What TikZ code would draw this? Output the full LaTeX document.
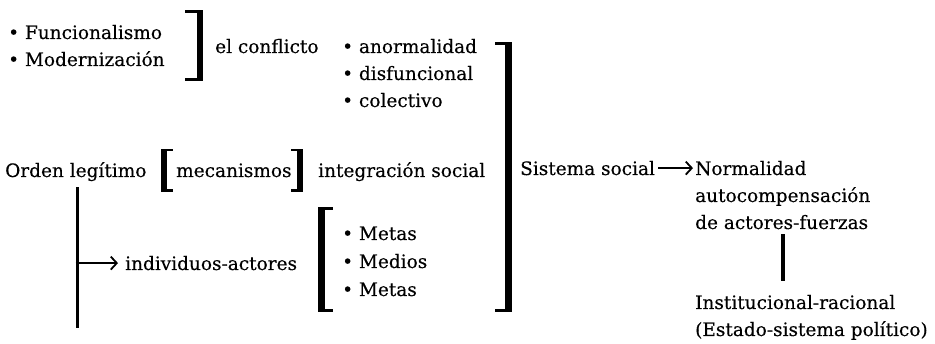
\documentclass[tikz,border=0pt]{standalone}
\usepackage{fontspec}
\setmainfont[FakeBold=0.3]{DejaVu Serif}
\usetikzlibrary{arrows.meta}
\begin{document}
\begin{tikzpicture}[x=1pt,y=-1pt,
  txt/.style={anchor=base west,inner sep=0pt,font=\fontsize{18.5}{27}\selectfont},
  conn/.style={line width=3pt},
  thickconn/.style={line width=3.5pt},
  arr/.style={line width=1.8pt,-{Straight Barb[length=6pt,width=13pt,line width=1.8pt]}}]
\useasboundingbox (0,0) rectangle (935,344);
% top-left
\node[txt] (f1) at (8,39) {• Funcionalismo};
\node[txt] (f2) at (8,66) {• Modernización};
\fill (185,10) rectangle (203,13);
\fill (197,10) rectangle (203,81);
\fill (185,78) rectangle (203,81);
\node[txt] (conf) at (215,53) {el conflicto};
\node[txt] (a1) at (342,53) {• anormalidad};
\node[txt] (a2) at (342,80) {• disfuncional};
\node[txt] (a3) at (342,107) {• colectivo};
% big bracket
\fill (495,42) rectangle (512,45);
\fill (505,42) rectangle (512,312);
\fill (495,309) rectangle (512,312);
% middle row
\node[txt] (orden) at (5,177) {Orden legítimo};
\fill (161,149) rectangle (166.5,192);
\fill (161,149) rectangle (173,151.5);
\fill (161,189.5) rectangle (173,192);
\node[txt] (mec) at (176,177) {mecanismos};
\fill (297,149) rectangle (302.5,192);
\fill (291,149) rectangle (302.5,151.5);
\fill (291,189.5) rectangle (302.5,192);
\node[txt] (integ) at (318,177) {integración social};
\node[txt] (sis) at (520,175) {Sistema social};
\node[txt] (norm) at (695,175) {Normalidad};
\node[txt] (auto) at (695,202) {autocompensación};
\node[txt] (deact) at (695,229) {de actores-fuerzas};
\node[txt] (inst) at (695,309) {Institucional-racional};
\node[txt] (est) at (695,336) {(Estado-sistema político)};
% lower left
\node[txt] (ind) at (125,270) {individuos-actores};
\fill (318,207) rectangle (325,312);
\fill (318,207) rectangle (333,210);
\fill (318,309) rectangle (333,312);
\node[txt] (m1) at (342,240) {• Metas};
\node[txt] (m2) at (342,268) {• Medios};
\node[txt] (m3) at (342,296) {• Metas};
% connectors
\coordinate (vx) at (77,0);
\coordinate (vbot) at (77,328);
\draw[conn] ([yshift=-6pt]orden.south -| vx) -- (vbot);
\draw[arr] ([xshift=-1.5pt]ind.west -| vx) -- ([xshift=-7pt]ind.west);
\draw[arr] ([xshift=3pt]sis.east) -- ([xshift=-2pt]norm.west);
\coordinate (lx) at (783,0);
\draw[thickconn] ([yshift=-5pt]deact.south -| lx) -- ([yshift=14pt]inst.north -| lx);
\end{tikzpicture}
\end{document}
